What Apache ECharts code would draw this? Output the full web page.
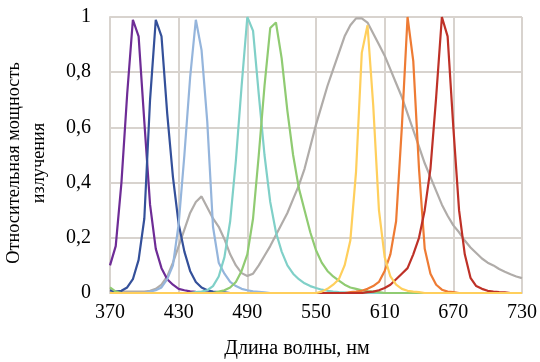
<!DOCTYPE html>
<html>
<head>
<meta charset="utf-8">
<script src="https://cdn.jsdelivr.net/npm/echarts@6/dist/echarts.min.js"></script>
<style>html,body{margin:0;padding:0;background:#fff;}#c{width:540px;height:362px;}</style>
</head>
<body>
<div id="c"></div>
<script>
var wavelengths = [370,375,380,385,390,395,400,405,410,415,420,425,430,435,440,445,450,455,460,465,470,475,480,485,490,495,500,505,510,515,520,525,530,535,540,545,550,555,560,565,570,575,580,585,590,595,600,605,610,615,620,625,630,635,640,645,650,655,660,665,670,675,680,685,690,695,700,705,710,715,720,725,730];
var xTicks = [370,430,490,550,610,670,730];
var yTicks = [0,0.2,0.4,0.6,0.8,1];

var whiteLed = [0.005,0.005,0.005,0.005,0.005,0.005,0.005,0.008,0.015,0.03,0.06,0.11,0.17,0.23,0.29,0.33,0.35,0.31,0.27,0.24,0.195,0.14,0.1,0.072,0.062,0.07,0.1,0.135,0.17,0.21,0.25,0.29,0.34,0.39,0.45,0.53,0.61,0.68,0.75,0.81,0.87,0.93,0.97,0.995,0.995,0.98,0.94,0.9,0.86,0.81,0.76,0.71,0.65,0.59,0.53,0.47,0.42,0.37,0.32,0.28,0.245,0.22,0.19,0.165,0.145,0.125,0.11,0.1,0.087,0.077,0.068,0.06,0.054];
var violet = [0.1,0.17,0.4,0.72,0.99,0.93,0.62,0.32,0.16,0.09,0.05,0.03,0.015,0.01,0.006,0.004,0.003,0.002,0.002,0.001,0,0,0,0,0,0,0,0,0,0,0,0,0,0,0,0,0,0,0,0,0,0,0,0,0,0,0,0,0,0,0,0,0,0,0,0,0,0,0,0,0,0,0,0,0,0,0,0,0,0,0,0,0];
var royalBlue = [0.01,0.005,0.008,0.02,0.05,0.12,0.27,0.7,0.99,0.93,0.65,0.42,0.25,0.15,0.08,0.04,0.02,0.01,0.005,0.003,0.002,0,0,0,0,0,0,0,0,0,0,0,0,0,0,0,0,0,0,0,0,0,0,0,0,0,0,0,0,0,0,0,0,0,0,0,0,0,0,0,0,0,0,0,0,0,0,0,0,0,0,0,0];
var blue = [0,0,0,0,0,0,0,0.005,0.01,0.02,0.05,0.1,0.25,0.5,0.78,0.99,0.88,0.62,0.24,0.11,0.07,0.04,0.025,0.015,0.01,0.006,0.004,0.002,0,0,0,0,0,0,0,0,0,0,0,0,0,0,0,0,0,0,0,0,0,0,0,0,0,0,0,0,0,0,0,0,0,0,0,0,0,0,0,0,0,0,0,0,0];
var cyan = [0,0,0,0,0,0,0,0,0,0,0,0,0,0,0,0.003,0.005,0.01,0.025,0.06,0.13,0.26,0.48,0.75,1.0,0.95,0.72,0.5,0.33,0.22,0.15,0.1,0.07,0.05,0.035,0.025,0.018,0.012,0.008,0.005,0.003,0.002,0,0,0,0,0,0,0,0,0,0,0,0,0,0,0,0,0,0,0,0,0,0,0,0,0,0,0,0,0,0,0];
var green = [0.02,0.005,0,0,0,0,0,0,0,0,0,0,0,0,0,0,0,0,0,0.005,0.01,0.02,0.04,0.08,0.14,0.27,0.5,0.75,0.96,0.98,0.85,0.66,0.5,0.38,0.3,0.22,0.155,0.11,0.08,0.06,0.045,0.03,0.02,0.015,0.01,0.007,0.005,0.003,0,0,0,0,0,0,0,0,0,0,0,0,0,0,0,0,0,0,0,0,0,0,0,0,0];
var amber = [0,0,0,0,0,0,0,0,0,0,0,0,0,0,0,0,0,0,0,0,0,0,0,0,0,0,0,0,0,0,0,0,0,0,0,0,0,0.005,0.015,0.03,0.05,0.1,0.19,0.44,0.87,0.97,0.68,0.3,0.13,0.06,0.03,0.015,0.008,0.005,0.003,0,0,0,0,0,0,0,0,0,0,0,0,0,0,0,0,0,0];
var orange = [0,0,0,0,0,0,0,0,0,0,0,0,0,0,0,0,0,0,0,0,0,0,0,0,0,0,0,0,0,0,0,0,0,0,0,0,0,0,0,0,0,0,0.003,0.005,0.008,0.015,0.025,0.04,0.08,0.14,0.26,0.6,1.0,0.84,0.45,0.16,0.07,0.03,0.012,0.005,0.003,0,0,0,0,0,0,0,0,0,0,0,0];
var red = [0,0,0,0,0,0,0,0,0,0,0,0,0,0,0,0,0,0,0,0,0,0,0,0,0,0,0,0,0,0,0,0,0,0,0,0,0,0,0,0,0,0,0,0,0,0.003,0.005,0.01,0.018,0.03,0.05,0.07,0.09,0.14,0.2,0.3,0.45,0.71,1.0,0.93,0.6,0.3,0.14,0.055,0.025,0.015,0.008,0.005,0.003,0.002,0,0,0];

var seriesDefs = [
  {name:'white', data: whiteLed, color:'#B0ACA9'},
  {name:'violet', data: violet, color:'#6E2C96'},
  {name:'royal', data: royalBlue, color:'#34509A'},
  {name:'blue', data: blue, color:'#95B5DC'},
  {name:'cyan', data: cyan, color:'#80D0C8'},
  {name:'green', data: green, color:'#90CB72'},
  {name:'orange', data: orange, color:'#EE7B34'},
  {name:'red', data: red, color:'#BE3127'},
  {name:'amber', data: amber, color:'#FFCF5C'}
];

var FONT = '"Liberation Serif","Times New Roman",serif';
var chart = echarts.init(document.getElementById('c'), null, {renderer:'canvas'});
var gridColor = '#D8D3CE';
chart.setOption({
  animation: false,
  backgroundColor: '#fff',
  grid: {left: 110, right: 18, top: 17, bottom: 69, containLabel: false, outerBoundsMode: 'none'},
  xAxis: {
    type: 'value', min: xTicks[0], max: xTicks[xTicks.length-1], interval: 60,
    name: 'Длина волны, нм', nameLocation: 'middle', nameGap: 46,
    nameTextStyle: {fontFamily: FONT, fontSize: 20, color: '#000', padding: [0, 38, 0, 0]},
    axisLine: {show: true, lineStyle: {color: gridColor, width: 2}},
    axisTick: {show: false},
    axisLabel: {fontFamily: FONT, fontSize: 20, color: '#000', margin: 10},
    splitLine: {show: true, lineStyle: {color: gridColor, width: 2}}
  },
  yAxis: {
    type: 'value', min: yTicks[0], max: yTicks[yTicks.length-1], interval: 0.2,
    name: 'Относительная мощность\nизлучения', nameLocation: 'middle', nameRotate: 90, nameGap: 59,
    nameTextStyle: {fontFamily: FONT, fontSize: 18.3, lineHeight: 24.5, color: '#000', align: 'center', padding: [0, 16, 0, 0]},
    axisLine: {show: true, lineStyle: {color: gridColor, width: 2}},
    axisTick: {show: false},
    axisLabel: {fontFamily: FONT, fontSize: 20, color: '#000', margin: 19,
      formatter: function(v){ return String(Math.round(v*10)/10).replace('.', ','); }},
    splitLine: {show: true, lineStyle: {color: gridColor, width: 2}}
  },
  series: seriesDefs.map(function(s){
    return {
      type: 'line', name: s.name, showSymbol: false, symbol: 'none',
      data: wavelengths.map(function(w, i){ return [w, s.data[i]]; }),
      lineStyle: {color: s.color, width: 2.2},
      itemStyle: {color: s.color}
    };
  })
});
</script>
</body>
</html>
